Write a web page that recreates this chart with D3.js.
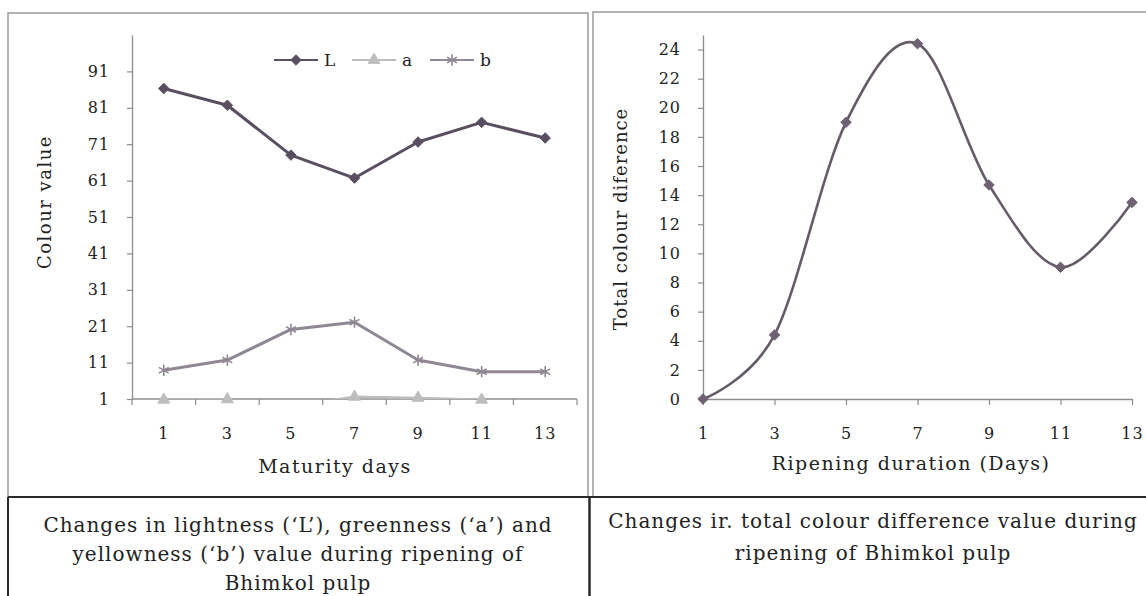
<!DOCTYPE html>
<html>
<head>
<meta charset="utf-8">
<script src="https://cdn.jsdelivr.net/npm/d3@7"></script>
<style>
  html, body { margin: 0; padding: 0; background: #fff; }
  svg { display: block; }
  text { font-family: "DejaVu Serif", "Liberation Serif", serif; fill: #222; }
</style>
</head>
<body>
<svg id="fig" width="1146" height="596"></svg>
<script>
// Ripening days (shared by both panels)
const days = [1, 3, 5, 7, 9, 11, 13];

// Panel 1: Hunter colour values of Bhimkol pulp
const lightnessL = [86.3, 81.7, 68.0, 61.7, 71.6, 77.0, 72.7];
const greennessA = [0.8, 0.9, -1.0, 1.6, 1.3, 0.8, -1.0];
const yellownessB = [8.9, 11.7, 20.1, 22.1, 11.7, 8.5, 8.5];
const colourTicks = [1, 11, 21, 31, 41, 51, 61, 71, 81, 91];

// Panel 2: total colour difference
const totalDiff = [0, 4.4, 19.0, 24.4, 14.7, 9.05, 13.5];
const diffTicks = [0, 2, 4, 6, 8, 10, 12, 14, 16, 18, 20, 22, 24];

const svg = d3.select("#fig");

// ---------- frames ----------
const frameGray = "#9a9a9a";
svg.append("rect").attr("x", 8).attr("y", 13).attr("width", 580).attr("height", 484)
  .attr("fill", "none").attr("stroke", frameGray).attr("stroke-width", 1.5);
svg.append("rect").attr("x", 593).attr("y", 12).attr("width", 570).attr("height", 485)
  .attr("fill", "none").attr("stroke", frameGray).attr("stroke-width", 1.5);
// caption boxes
svg.append("line").attr("x1", 8).attr("x2", 1146).attr("y1", 497).attr("y2", 497)
  .attr("stroke", "#2a2a2a").attr("stroke-width", 2);
svg.append("line").attr("x1", 8).attr("x2", 8).attr("y1", 497).attr("y2", 596)
  .attr("stroke", "#2a2a2a").attr("stroke-width", 2);
svg.append("line").attr("x1", 589.5).attr("x2", 589.5).attr("y1", 497).attr("y2", 596)
  .attr("stroke", "#2a2a2a").attr("stroke-width", 2.5);

const axisGray = "#8c8c8c";
function styleAxis(g) {
  g.selectAll(".domain").attr("stroke", axisGray).attr("stroke-width", 1.3);
  g.selectAll(".tick line").attr("stroke", axisGray).attr("stroke-width", 1.2);
  g.selectAll(".tick text").attr("font-family", "'DejaVu Serif', serif")
    .attr("font-size", 16).attr("letter-spacing", 1).attr("fill", "#222");
}

// marker shapes
const diamond = d3.symbol().type(d3.symbolDiamond2).size(70);
const triangle = d3.symbol().type(d3.symbolTriangle).size(60);
const star = d3.symbol().type(d3.symbolAsterisk).size(90);

// ================= Panel 1 =================
const xL = d3.scaleBand().domain(days).range([132, 577]);
const yL = d3.scaleLinear().domain([1, 101]).range([399, 35]);
const cx = d => xL(d) + xL.bandwidth() / 2;

svg.append("defs").append("clipPath").attr("id", "plotL")
  .append("rect").attr("x", 132).attr("y", 35).attr("width", 445).attr("height", 364);

// y axis
const gyL = svg.append("g").attr("transform", "translate(132,0)")
  .call(d3.axisLeft(yL).tickValues(colourTicks).tickFormat(d3.format("d"))
    .tickSize(5).tickSizeOuter(0).tickPadding(17));
styleAxis(gyL);

// x axis: labels centred in each category, tick marks on category edges
const gxL = svg.append("g").attr("transform", "translate(0,399)")
  .call(d3.axisBottom(xL).tickSize(0).tickPadding(29));
styleAxis(gxL);
gxL.selectAll(".domain").remove();
svg.append("line").attr("x1", 132).attr("x2", 577).attr("y1", 399).attr("y2", 399)
  .attr("stroke", axisGray).attr("stroke-width", 1.3);
svg.append("g").selectAll("line").data(days.map(d => xL(d)).concat([577]))
  .join("line").attr("x1", d => d).attr("x2", d => d).attr("y1", 399).attr("y2", 405)
  .attr("stroke", axisGray).attr("stroke-width", 1.2);

const seriesL = [
  { name: "L", values: lightnessL, color: "#5a4f60", width: 3, shape: diamond, fill: true },
  { name: "a", values: greennessA, color: "#bdbdbd", width: 2.5, shape: triangle, fill: true },
  { name: "b", values: yellownessB, color: "#8f8793", width: 3, shape: star, fill: false }
];

const lineL = d3.line().x((v, i) => cx(days[i])).y(v => yL(v));
const plotL = svg.append("g");
// draw a, b, then L on top
[seriesL[1], seriesL[2], seriesL[0]].forEach(s => {
  plotL.append("path").datum(s.values).attr("d", lineL)
    .attr("fill", "none").attr("stroke", s.color).attr("stroke-width", s.width)
    .attr("stroke-linejoin", "round").attr("clip-path", "url(#plotL)");
  plotL.append("g").selectAll("path")
    .data(s.values.map((v, i) => ({ v, d: days[i] })).filter(p => p.v >= 0))
    .join("path")
    .attr("transform", p => `translate(${cx(p.d)},${yL(p.v)})`)
    .attr("d", s.shape)
    .attr("fill", s.fill ? s.color : "none")
    .attr("stroke", s.color).attr("stroke-width", s.fill ? 1 : 1.6);
});

// legend
const legL = svg.append("g");
const legX = [274, 352, 430];
seriesL.forEach((s, i) => {
  const g = legL.append("g").attr("transform", `translate(${legX[i]},60)`);
  g.append("line").attr("x1", 0).attr("x2", 44).attr("y1", 0).attr("y2", 0)
    .attr("stroke", s.color).attr("stroke-width", 1.8);
  g.append("path").attr("transform", "translate(22,0)").attr("d", s.shape)
    .attr("fill", s.fill ? s.color : "none").attr("stroke", s.color)
    .attr("stroke-width", s.fill ? 1 : 1.6);
  g.append("text").attr("x", 50).attr("y", 6).attr("font-size", 17).text(s.name);
});

// axis titles
svg.append("text").attr("transform", "translate(51,202) rotate(-90)")
  .attr("text-anchor", "middle").attr("font-size", 18).attr("letter-spacing", 1.5)
  .text("Colour value");
svg.append("text").attr("x", 335).attr("y", 473)
  .attr("text-anchor", "middle").attr("font-size", 19).attr("letter-spacing", 1.5)
  .text("Maturity days");

// caption
const capL = ["Changes in lightness (\u2018L\u2019), greenness (\u2018a\u2019) and",
              "yellowness (\u2018b\u2019) value during ripening of",
              "Bhimkol pulp"];
svg.append("g").selectAll("text").data(capL).join("text")
  .attr("x", 298).attr("y", (d, i) => 532 + i * 29)
  .attr("text-anchor", "middle").attr("font-size", 20).attr("letter-spacing", 1)
  .text(d => d);

// ================= Panel 2 =================
const xR = d3.scalePoint().domain(days).range([703, 1132]);
const yR = d3.scaleLinear().domain([0, 25]).range([399, 35]);

const gyR = svg.append("g").attr("transform", "translate(703,0)")
  .call(d3.axisLeft(yR).tickValues(diffTicks).tickSize(5).tickSizeOuter(0).tickPadding(17));
styleAxis(gyR);

const gxR = svg.append("g").attr("transform", "translate(0,399)")
  .call(d3.axisBottom(xR).tickSize(6).tickSizeOuter(0).tickPadding(23));
styleAxis(gxR);

const lineR = d3.line().x((v, i) => xR(days[i])).y(v => yR(v))
  .curve(d3.curveCardinal.tension(0));
svg.append("path").datum(totalDiff).attr("d", lineR)
  .attr("fill", "none").attr("stroke", "#655b69").attr("stroke-width", 2.6);
svg.append("g").selectAll("path").data(totalDiff).join("path")
  .attr("transform", (v, i) => `translate(${xR(days[i])},${yR(v)})`)
  .attr("d", diamond).attr("fill", "#6e6272").attr("stroke", "#6e6272");

svg.append("text").attr("transform", "translate(627,219) rotate(-90)")
  .attr("text-anchor", "middle").attr("font-size", 18).attr("letter-spacing", 1)
  .text("Total colour diference");
svg.append("text").attr("x", 911).attr("y", 470)
  .attr("text-anchor", "middle").attr("font-size", 19).attr("letter-spacing", 1.5)
  .text("Ripening duration (Days)");

const capR = ["Changes ir. total colour difference value during",
              "ripening of Bhimkol pulp"];
svg.append("g").selectAll("text").data(capR).join("text")
  .attr("x", 873).attr("y", (d, i) => 528 + i * 32)
  .attr("text-anchor", "middle").attr("font-size", 20).attr("letter-spacing", 1)
  .text(d => d);
</script>
</body>
</html>
